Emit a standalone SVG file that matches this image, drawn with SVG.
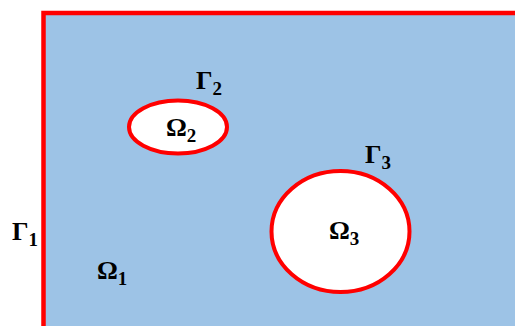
<svg xmlns="http://www.w3.org/2000/svg" width="515" height="326" viewBox="0 0 515 326">
<style>
.lbl{font-family:"Liberation Serif","Times New Roman",serif;font-weight:bold;font-size:26px;fill:#000}
.sub{font-size:19px}
.bd{fill:#FFFFFF;stroke:#FF0000;stroke-width:4}
</style>
<g id="domain">
<rect x="43" y="13" width="480" height="320" fill="#9DC3E6"/>
<path d="M43.5,330 V13 H520" fill="none" stroke="#FF0000" stroke-width="4.5"/>
</g>
<g id="omega2">
<ellipse class="bd" cx="178" cy="127" rx="49" ry="26.5"/>
<text class="lbl" x="166" y="136">Ω<tspan class="sub" dy="6">2</tspan></text>
</g>
<g id="omega3">
<ellipse class="bd" cx="340.5" cy="231.5" rx="69" ry="60.5"/>
<text class="lbl" x="329" y="239">Ω<tspan class="sub" dy="6">3</tspan></text>
</g>
<g id="labels">
<text class="lbl" x="12" y="240">Γ<tspan class="sub" dy="6">1</tspan></text>
<text class="lbl" x="97" y="279">Ω<tspan class="sub" dy="6">1</tspan></text>
<text class="lbl" x="196" y="89">Γ<tspan class="sub" dy="6">2</tspan></text>
<text class="lbl" x="365" y="163">Γ<tspan class="sub" dy="6">3</tspan></text>
</g>
</svg>
